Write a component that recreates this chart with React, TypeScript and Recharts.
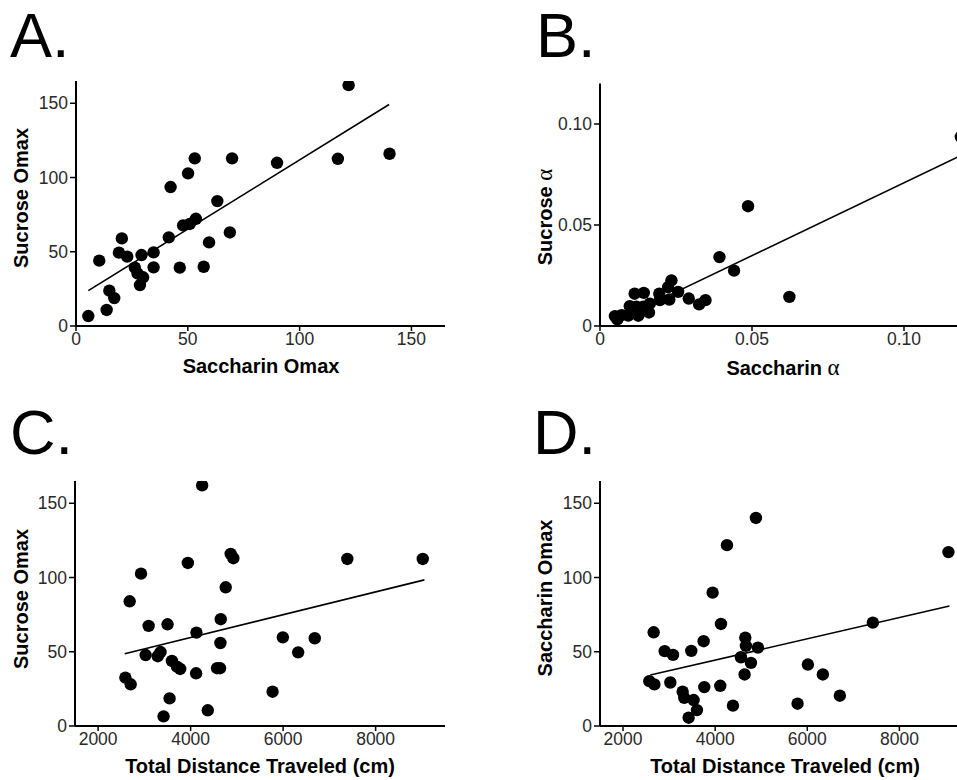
import React from 'react';
import { ScatterChart, Scatter, XAxis, YAxis, ReferenceLine } from 'recharts';

const FONT = '"Liberation Sans", Arial, Helvetica, sans-serif';

// Panel A: Saccharin Omax (x) vs Sucrose Omax (y)
const saccharinOmaxA = [5.5, 10.4, 14.9, 13.7, 17.1, 20.5, 19.2, 22.9, 26.3, 27.5, 30, 28.6, 29.3, 34.7, 34.7, 41.5, 42.3, 46.4, 47.9, 50.9, 53.6, 50.1, 53.1, 57.1, 59.5, 63.2, 68.8, 69.8, 89.9, 117.1, 121.9, 140.2];
const sucroseOmaxA = [6.7, 44, 23.8, 10.8, 18.8, 59, 49.4, 46.7, 39.3, 35.4, 32.8, 27.6, 47.8, 49.6, 39.5, 59.7, 93.6, 39.3, 67.8, 68.7, 72.2, 102.8, 112.9, 39.9, 56.3, 84.1, 63, 112.9, 109.9, 112.6, 162.2, 116];
const fitA = [{ x: 5.5, y: 23.8 }, { x: 140, y: 149.2 }];

// Panel B: Saccharin alpha (x) vs Sucrose alpha (y)
const saccharinAlphaB = [0.0049, 0.0057, 0.0071, 0.0093, 0.0098, 0.0114, 0.012, 0.0126, 0.0144, 0.0142, 0.0161, 0.0164, 0.0195, 0.0197, 0.0228, 0.0224, 0.0235, 0.0257, 0.0292, 0.0326, 0.0347, 0.0393, 0.0441, 0.0487, 0.0623, 0.1187];
const sucroseAlphaB = [0.0049, 0.0033, 0.0054, 0.0052, 0.0098, 0.016, 0.0095, 0.0051, 0.0164, 0.0095, 0.0067, 0.0111, 0.016, 0.0128, 0.0131, 0.0193, 0.0226, 0.0169, 0.0136, 0.0107, 0.0128, 0.0341, 0.0274, 0.0593, 0.0144, 0.0936];
const fitB = [{ x: 0.005, y: 0.0024 }, { x: 0.119, y: 0.0846 }];

// Panel C: Total distance (x) vs Sucrose Omax (y)
const distanceC = [2589, 2704, 2682, 2927, 3027, 3092, 3290, 3350, 3415, 3501, 3545, 3595, 3703, 3774, 3940, 4119, 4126, 4249, 4371, 4572, 4636, 4644, 4651, 4759, 4866, 4924, 5772, 5994, 6325, 6684, 7388, 9019];
const sucroseOmaxC = [32.6, 28.1, 84, 102.6, 47.8, 67.4, 47, 49.8, 6.5, 68.5, 18.6, 43.8, 40, 38.4, 109.8, 35.5, 62.9, 162.1, 10.6, 38.9, 38.9, 55.9, 71.9, 93.4, 115.9, 113, 23.1, 59.7, 49.6, 59.1, 112.5, 112.5];
const fitC = [{ x: 2575, y: 48.7 }, { x: 9055, y: 98.4 }];

// Panel D: Total distance (x) vs Saccharin Omax (y)
const distanceD = [2571, 2680, 2665, 2904, 3085, 3027, 3294, 3330, 3424, 3533, 3605, 3482, 3750, 3764, 3945, 4111, 4126, 4256, 4386, 4560, 4639, 4654, 4668, 4777, 4885, 4928, 5789, 6013, 6338, 6707, 7423, 9064];
const saccharinOmaxD = [30.2, 28, 63.1, 50.4, 47.9, 29.3, 23.1, 19, 5.6, 17.5, 10.7, 50.6, 57.1, 26.2, 89.8, 27.1, 68.7, 121.8, 13.7, 46.3, 34.7, 59.5, 54, 42.5, 140.1, 52.8, 15, 41.4, 34.7, 20.4, 69.6, 117.1];
const fitD = [{ x: 2593, y: 34.3 }, { x: 9086, y: 80.8 }];

const omaxTicks = [0, 50, 100, 150];
const alphaTicks = [0, 0.05, 0.1];
const distanceTicks = [2000, 4000, 6000, 8000];

const zip = (xs: number[], ys: number[]) => xs.map((x, i) => ({ x, y: ys[i] }));

const tickStyle = { fontSize: 17.5, fill: '#2a2a2a', fontFamily: FONT };
const alphaFmt = (v: number) => (v === 0 ? '0' : v.toFixed(2));

const Dot = (p: any) => <circle cx={p.cx} cy={p.cy} r={6.2} fill="#000" />;

type PanelProps = {
  left: number; top: number; width: number; height: number;
  margin: { top: number; right: number; bottom: number; left: number };
  yWidth: number;
  data: { x: number; y: number }[];
  fit: { x: number; y: number }[];
  xDomain: [number, number]; yDomain: [number, number];
  xTicks: number[]; yTicks: number[];
  fmt?: (v: number) => string;
};

function Panel(p: PanelProps) {
  return (
    <div style={{ position: 'absolute', left: p.left, top: p.top }}>
      <ScatterChart width={p.width} height={p.height} margin={p.margin}>
        <XAxis
          type="number" dataKey="x" domain={p.xDomain} ticks={p.xTicks} interval={0}
          tickFormatter={p.fmt} allowDataOverflow height={50}
          axisLine={{ stroke: '#000', strokeWidth: 2 }} tickLine={{ stroke: '#000', strokeWidth: 1.5 }}
          tickSize={5} tickMargin={2} tick={tickStyle}
        />
        <YAxis
          type="number" dataKey="y" domain={p.yDomain} ticks={p.yTicks} interval={0}
          tickFormatter={p.fmt} allowDataOverflow width={p.yWidth}
          axisLine={{ stroke: '#000', strokeWidth: 2 }} tickLine={{ stroke: '#000', strokeWidth: 1.5 }}
          tickSize={6} tickMargin={2} tick={tickStyle}
        />
        <ReferenceLine segment={p.fit} stroke="#000" strokeWidth={1.6} ifOverflow="visible" />
        <Scatter data={p.data} shape={Dot} isAnimationActive={false} />
      </ScatterChart>
    </div>
  );
}

const titleStyle = { fontFamily: FONT, fontWeight: 700, fontSize: 20, fill: '#000' } as const;
const letterStyle = { fontFamily: FONT, fontSize: 63, fill: '#000' } as const;
const alphaStyle = { fontFamily: '"Liberation Serif", "DejaVu Serif", serif', fontWeight: 400, fontSize: 23 } as const;

export default function App() {
  return (
    <div style={{ position: 'absolute', left: 0, top: 0, width: 957, height: 780, overflow: 'hidden', background: '#fff' }}>
      <Panel left={0} top={60} width={480} height={330}
        margin={{ top: 21, right: 35, bottom: 14, left: 0 }} yWidth={76}
        data={zip(saccharinOmaxA, sucroseOmaxA)} fit={fitA}
        xDomain={[0, 165]} yDomain={[0, 165]} xTicks={omaxTicks} yTicks={omaxTicks} />
      <Panel left={500} top={60} width={490} height={330}
        margin={{ top: 23.6, right: 25.2, bottom: 14, left: 0 }} yWidth={100}
        data={zip(saccharinAlphaB, sucroseAlphaB)} fit={fitB}
        xDomain={[0, 0.12]} yDomain={[0, 0.12]} xTicks={alphaTicks} yTicks={alphaTicks} fmt={alphaFmt} />
      <Panel left={0} top={440} width={480} height={340}
        margin={{ top: 41, right: 35, bottom: 4, left: 0 }} yWidth={75}
        data={zip(distanceC, sucroseOmaxC)} fit={fitC}
        xDomain={[1500, 9500]} yDomain={[0, 165]} xTicks={distanceTicks} yTicks={omaxTicks} />
      <Panel left={500} top={440} width={490} height={340}
        margin={{ top: 41, right: 21.5, bottom: 4, left: 0 }} yWidth={100}
        data={zip(distanceD, saccharinOmaxD)} fit={fitD}
        xDomain={[1500, 9500]} yDomain={[0, 165]} xTicks={distanceTicks} yTicks={omaxTicks} />

      <svg width={957} height={780} style={{ position: 'absolute', left: 0, top: 0, pointerEvents: 'none' }}>
        <text x={10} y={57} style={letterStyle}>A.</text>
        <text x={536} y={57} style={letterStyle}>B.</text>
        <text x={10} y={454} style={letterStyle}>C.</text>
        <text x={533} y={454} style={letterStyle}>D.</text>

        <text x={261} y={373} textAnchor="middle" style={titleStyle}>Saccharin Omax</text>
        <text x={28} y={198} textAnchor="middle" transform="rotate(-90 28 198)" style={titleStyle}>Sucrose Omax</text>

        <text x={783} y={375} textAnchor="middle" style={titleStyle}>Saccharin <tspan style={alphaStyle}>α</tspan></text>
        <text x={552} y={217} textAnchor="middle" transform="rotate(-90 552 217)" style={titleStyle}>Sucrose <tspan style={alphaStyle}>α</tspan></text>

        <text x={260} y={773} textAnchor="middle" style={titleStyle}>Total Distance Traveled (cm)</text>
        <text x={28} y={599} textAnchor="middle" transform="rotate(-90 28 599)" style={titleStyle}>Sucrose Omax</text>

        <text x={785} y={773} textAnchor="middle" style={titleStyle}>Total Distance Traveled (cm)</text>
        <text x={552} y={598} textAnchor="middle" transform="rotate(-90 552 598)" style={titleStyle}>Saccharin Omax</text>
      </svg>
    </div>
  );
}
